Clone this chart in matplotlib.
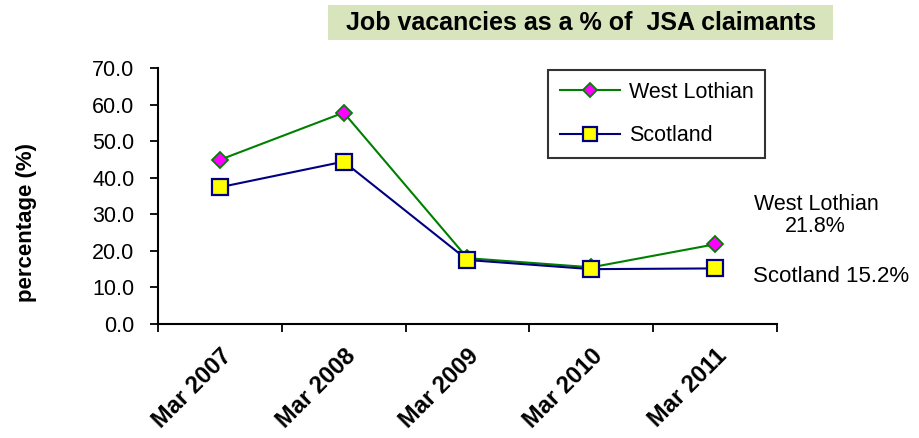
import matplotlib
matplotlib.use("Agg")
import matplotlib.pyplot as plt
from matplotlib.ticker import FixedLocator, NullFormatter
from matplotlib.patches import Rectangle

plt.rcParams['font.family'] = ['Liberation Sans', 'DejaVu Sans']

categories = ["Mar 2007", "Mar 2008", "Mar 2009", "Mar 2010", "Mar 2011"]
west_lothian = [44.9, 57.8, 18.0, 15.5, 21.8]
scotland = [37.4, 44.4, 17.5, 15.0, 15.2]
yticks = [0, 10, 20, 30, 40, 50, 60, 70]

W, H = 920, 438
fig = plt.figure(figsize=(W / 100, H / 100), dpi=100)
ax = fig.add_axes([158 / W, 1 - 324 / H, (777 - 158) / W, (324 - 68) / H])

x = list(range(len(categories)))
ax.plot(x, west_lothian, color='#008000', lw=1.5, marker='D', markersize=8.5,
        markerfacecolor='#FF00FF', markeredgecolor='#008000', markeredgewidth=1.3,
        label='West Lothian', zorder=2)
ax.plot(x, scotland, color='#000080', lw=1.5, marker='s', markersize=12,
        markerfacecolor='#FFFF00', markeredgecolor='#000080', markeredgewidth=1.6,
        label='Scotland', zorder=3)

ax.set_xlim(-0.5, len(categories) - 0.5)
ax.set_ylim(0, 70)
ax.set_yticks(yticks)
ax.set_yticklabels([f"{v:.1f}" for v in yticks], fontsize=15.5)

ax.xaxis.set_major_locator(FixedLocator(x))
ax.set_xticklabels(categories, rotation=45, ha='right', rotation_mode='anchor',
                   fontsize=17, fontweight='bold')
ax.tick_params(axis='x', which='major', length=0, pad=15)
ax.xaxis.set_minor_locator(FixedLocator([i - 0.5 for i in range(len(categories) + 1)]))
ax.xaxis.set_minor_formatter(NullFormatter())
ax.tick_params(axis='x', which='minor', length=6, width=1.3, direction='out')
ax.tick_params(axis='y', length=6, width=1.3, direction='out', pad=11)

for s in ['top', 'right']:
    ax.spines[s].set_visible(False)
for s in ['left', 'bottom']:
    ax.spines[s].set_linewidth(1.5)

fig.text(27 / W, 1 - 222 / H, "percentage (%)", rotation=90, ha='center', va='center',
         fontsize=16, fontweight='bold')

leg = ax.legend(loc='upper left', bbox_to_anchor=((548 - 158) / 619, 1 - 2 / 256),
                borderaxespad=0, fontsize=15.5,
                frameon=True, fancybox=False, edgecolor='black',
                borderpad=0.55, labelspacing=1.05, handlelength=2.8, handletextpad=0.4,
                markerscale=0.85)
leg.get_frame().set_linewidth(1.5)

fig.add_artist(Rectangle((328 / W, 1 - 40 / H), (833 - 328) / W, 35 / H,
                         transform=fig.transFigure, facecolor='#D8E4BC',
                         edgecolor='none', zorder=0))
fig.text(581 / W, 1 - 23 / H, "Job vacancies as a % of  JSA claimants", ha='center',
         va='center', fontsize=18, fontweight='bold')

fig.text(816 / W, 1 - 204 / H, "West Lothian", ha='center', va='center', fontsize=15.5)
fig.text(815 / W, 1 - 227 / H, "21.8%", ha='center', va='center', fontsize=15.5)
fig.text(831 / W, 1 - 277 / H, "Scotland 15.2%", ha='center', va='center', fontsize=16)

fig.savefig("out.png", dpi=100)
